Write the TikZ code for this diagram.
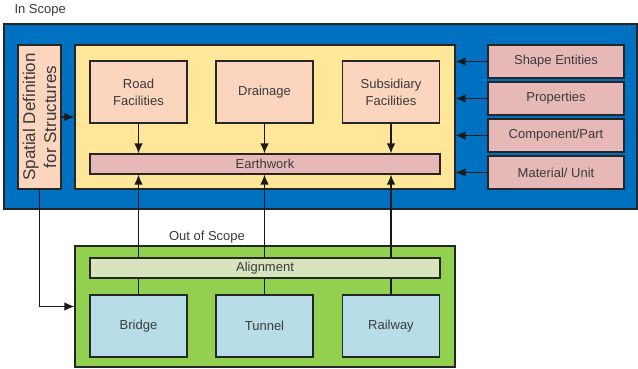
\documentclass[tikz,border=0pt]{standalone}
\usepackage{fontspec}
\setmainfont{Liberation Sans}
\usetikzlibrary{arrows.meta}
\definecolor{scopeblue}{HTML}{0070C0}
\definecolor{coreyellow}{HTML}{FFE699}
\definecolor{peach}{HTML}{FBD5BE}
\definecolor{rose}{HTML}{E6B9B8}
\definecolor{outgreen}{HTML}{92D050}
\definecolor{palegreen}{HTML}{D7E4BD}
\definecolor{paleblue}{HTML}{B7DDE8}
\definecolor{txt}{HTML}{3A3A3A}
\begin{document}
\begin{tikzpicture}[x=1pt,y=-1pt,
  blk/.style={draw=black!85, line width=1.2pt, inner sep=0pt, text=txt,
    font=\fontsize{13}{17}\selectfont, align=center},
  arr/.style={-{Latex[length=10pt,width=8.5pt]}, line width=1.3pt, draw=black!90},
  ln/.style={line width=1.3pt, draw=black!90}]
\useasboundingbox (0,0) rectangle (638,369);
\fill[white] (0,0) rectangle (638,369);

% in-scope frame
\node[blk, fill=scopeblue, minimum width=633pt, minimum height=185pt] (scope) at (320.5,116.5) {};
\node[anchor=west, text=txt, font=\fontsize{13}{15}\selectfont] (inlbl) at (11,10.5) {In Scope};

\node[blk, fill=peach, minimum width=43pt, minimum height=144pt] (spatial) at (39.5,117) {};
\node[rotate=90, text=txt, align=center, font=\fontsize{17}{21}\selectfont] (spatialtxt) at (39.5,117) {Spatial Definition\\for Structures};

\node[blk, fill=coreyellow, minimum width=380pt, minimum height=144pt] (core) at (265,117) {};

\node[blk, fill=peach, minimum width=97pt, minimum height=62pt] (road) at (138.5,92) {Road\\Facilities};
\node[blk, fill=peach, minimum width=97pt, minimum height=62pt] (drain) at (264.5,92) {Drainage};
\node[blk, fill=peach, minimum width=97pt, minimum height=62pt] (subs) at (391,92) {Subsidiary\\Facilities};
\node[blk, fill=rose, minimum width=350pt, minimum height=20pt] (earth) at (265,164) {Earthwork};

\node[blk, fill=rose, minimum width=136pt, minimum height=33pt] (shape) at (556,61.5) {Shape Entities};
\node[blk, fill=rose, minimum width=136pt, minimum height=33pt] (props) at (556,98.5) {Properties};
\node[blk, fill=rose, minimum width=136pt, minimum height=33pt] (comp) at (556,135.5) {Component/Part};
\node[blk, fill=rose, minimum width=136pt, minimum height=33pt] (mat) at (556,172.5) {Material/ Unit};

% out-of-scope frame
\node[text=txt, font=\fontsize{13}{15}\selectfont] (outlbl) at (207,237) {Out of Scope};
\node[blk, fill=outgreen, minimum width=380pt, minimum height=121pt] (outer) at (265,306.5) {};
\node[blk, fill=palegreen, minimum width=350pt, minimum height=20pt] (align) at (265,268) {Alignment};
\node[blk, fill=paleblue, minimum width=97pt, minimum height=62pt] (bridge) at (138.5,326) {Bridge};
\node[blk, fill=paleblue, minimum width=97pt, minimum height=62pt] (tunnel) at (264.5,326) {Tunnel};
\node[blk, fill=paleblue, minimum width=97pt, minimum height=62pt] (rail) at (391,326) {Railway};

% connectors
\draw[arr] (spatial.east) -- (core.west);
\draw[arr] (spatial.south) -- (spatial.south |- outer.west) -- (outer.west);
\foreach \n in {shape,props,comp,mat}
  \draw[arr] (\n.west) -- (\n.west -| core.east);
\foreach \n in {road,drain,subs}
  \draw[arr] (\n.south) -- (\n.south |- earth.north);
\foreach \n in {bridge,tunnel,rail}{
  \draw[ln] (\n.north) -- (\n.north |- align.south);
  \draw[arr] (\n.north |- align.north) -- (\n.north |- earth.south);
}
\end{tikzpicture}
\end{document}
